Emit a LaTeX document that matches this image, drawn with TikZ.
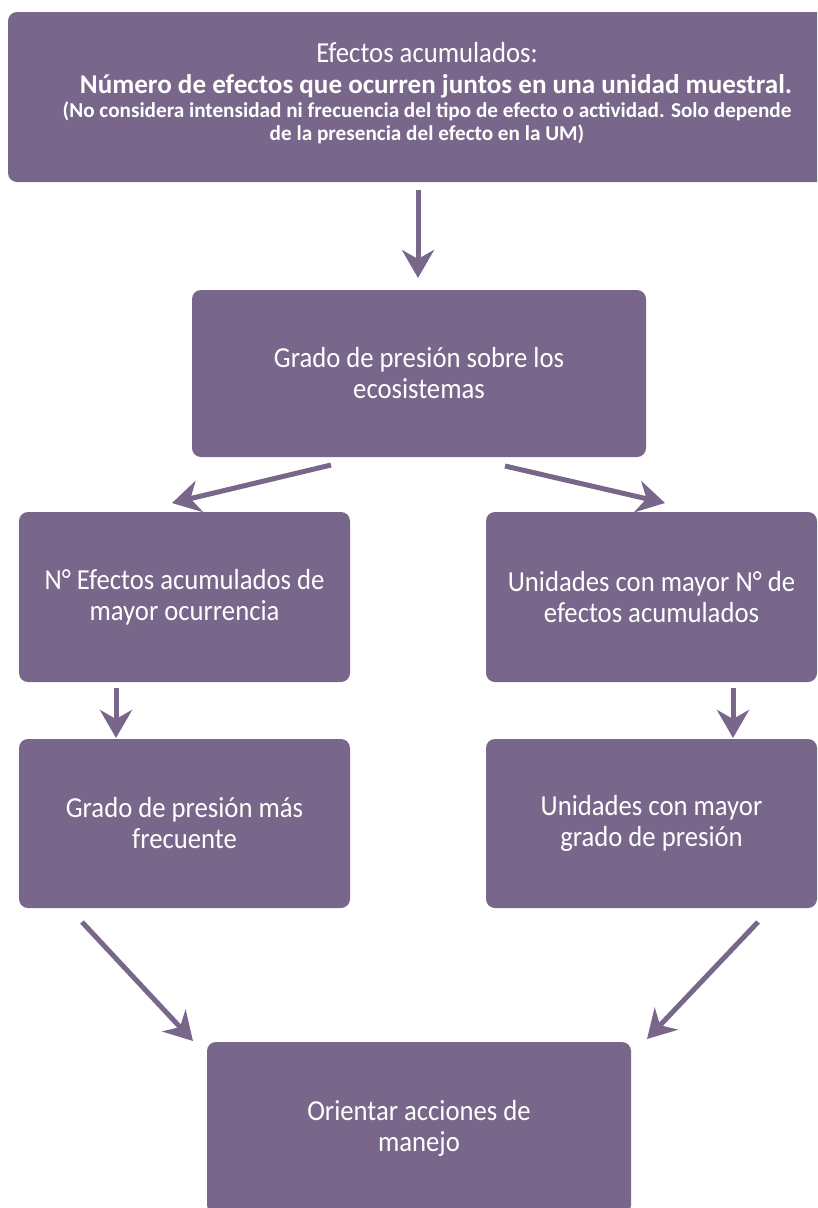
\documentclass[tikz,border=0pt]{standalone}
\usepackage{fontspec}
\setmainfont{Carlito}
\newfontfamily\lightfont[FakeStretch=0.92]{Carlito}
\usetikzlibrary{arrows.meta}
\definecolor{boxc}{HTML}{78678A}
\tikzset{
  box/.style={fill=boxc, draw=none, rounded corners=9pt, text=white, align=center, inner sep=0pt},
  flow/.style={draw=boxc, line width=5pt, -{Stealth[length=28pt, width=32pt, inset=9pt]}},
  lbl/.style={font=\lightfont\fontsize{29}{31}\selectfont},
  ttl/.style={text=white, inner sep=0pt, anchor=base}
}
\begin{document}
\begin{tikzpicture}[x=1pt, y=-1pt]
\useasboundingbox (0,0) rectangle (817,1208);
\clip (0,0) rectangle (817,1208);
\node[box, minimum width=838pt, minimum height=170pt] (top) at (427,97) {};
\node[ttl, font=\lightfont\fontsize{29}{30}\selectfont] (t1) at (427,62) {Efectos acumulados:};
\node[ttl, font=\bfseries\fontsize{27.1}{30}\selectfont] (t2) at (436,93) {Número de efectos que ocurren juntos en una unidad muestral.};
\node[ttl, font=\bfseries\fontsize{21.2}{24}\selectfont] (t3) at (427,117) {(No considera intensidad ni frecuencia del tipo de efecto o actividad. Solo depende};
\node[ttl, font=\bfseries\fontsize{21.2}{24}\selectfont] (t4) at (427,140) {de la presencia del efecto en la UM)};
\node[box, lbl, minimum width=454pt, minimum height=167pt] (grado) at (419,373.5) {Grado de presión sobre los\\ecosistemas};
\node[box, lbl, minimum width=331pt, minimum height=170pt] (nef) at (184.5,597) {N° Efectos acumulados de\\mayor ocurrencia};
\node[box, lbl, minimum width=331pt, minimum height=170pt] (uni) at (651.5,597) {Unidades con mayor N° de\\efectos acumulados};
\node[box, lbl, minimum width=331pt, minimum height=169pt] (gfre) at (184.5,823.5) {Grado de presión más\\frecuente};
\node[box, lbl, minimum width=331pt, minimum height=169pt] (ugr) at (651.5,823.5) {Unidades con mayor\\grado de presión};
\node[box, lbl, minimum width=424pt, minimum height=172pt] (ori) at (419,1128) {Orientar acciones de\\manejo};
\coordinate (a1s) at (418,190); \coordinate (a1e) at (418,278);
\coordinate (a2s) at (331,465); \coordinate (a2e) at (172,503);
\coordinate (a3s) at (505,466); \coordinate (a3e) at (665,503);
\coordinate (a4s) at (116,688); \coordinate (a4e) at (116,738);
\coordinate (a5s) at (733,688); \coordinate (a5e) at (733,738);
\coordinate (a6s) at (82,922); \coordinate (a6e) at (193,1041);
\coordinate (a7s) at (758,922); \coordinate (a7e) at (647,1039);
\draw[flow] (a1s) -- (a1e);
\draw[flow] (a2s) -- (a2e);
\draw[flow] (a3s) -- (a3e);
\draw[flow] (a4s) -- (a4e);
\draw[flow] (a5s) -- (a5e);
\draw[flow] (a6s) -- (a6e);
\draw[flow] (a7s) -- (a7e);
\end{tikzpicture}
\end{document}
